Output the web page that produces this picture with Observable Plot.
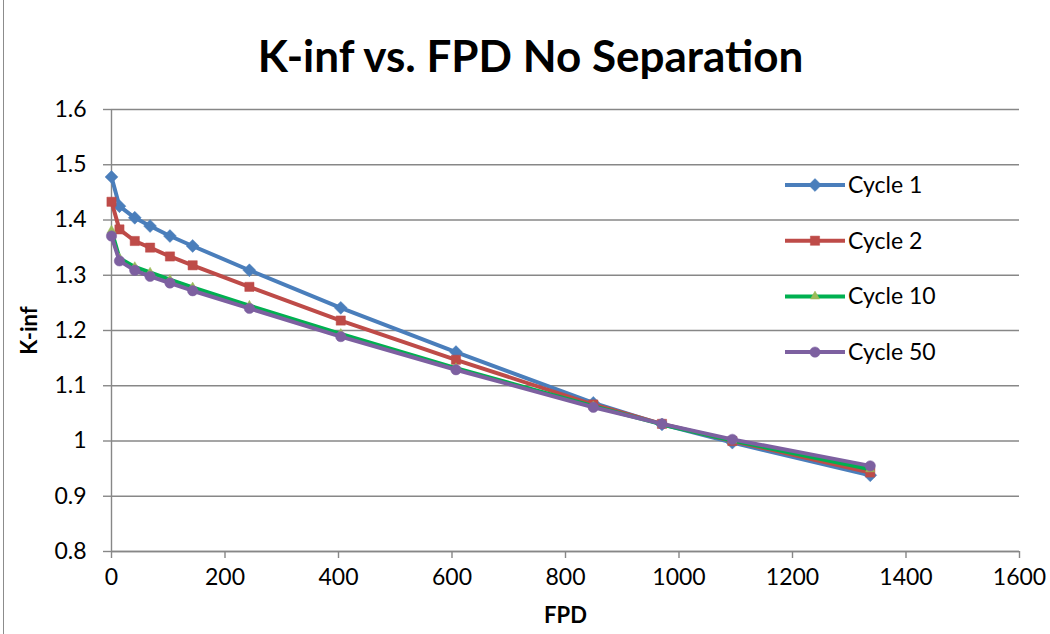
<!DOCTYPE html>
<html>
<head>
<meta charset="utf-8">
<script src="https://cdn.jsdelivr.net/npm/d3@7"></script>
<script src="https://cdn.jsdelivr.net/npm/@observablehq/plot@0.6"></script>
<style>
  body { margin: 0; background: #fff; }
  #chart { position: relative; width: 1050px; height: 634px; overflow: hidden; border-left: 1px solid #8c8c8c; box-sizing: border-box; margin-left: 3px; }
  #title { height: 90px; line-height: 90px; padding-top: 10px; box-sizing: border-box; text-align: center; font-family: Lato, "Open Sans", sans-serif; font-weight: bold; font-size: 44px; color: #000; padding-left: 4px; white-space: nowrap; }
  .kinf g[aria-label="x-axis label"] text, .kinf g[aria-label="y-axis label"] text { font-weight: bold; font-size: 22px; }
</style>
</head>
<body>
<div id="chart">
  <div id="title">K-inf vs. FPD No Separation</div>
</div>
<script>
// Full-power days at each depletion step
const fpd = [0, 14, 41, 68, 103, 143, 243, 404, 607, 849, 970, 1094, 1337];

// k-infinity per recycle generation
const cycle1  = [1.478, 1.425, 1.404, 1.389, 1.371, 1.353, 1.309, 1.241, 1.161, 1.069, 1.030, 0.997, 0.938];
const cycle2  = [1.433, 1.383, 1.362, 1.350, 1.334, 1.318, 1.279, 1.218, 1.147, 1.066, 1.031, 1.000, 0.943];
const cycle10 = [1.381, 1.331, 1.315, 1.305, 1.292, 1.278, 1.245, 1.194, 1.132, 1.063, 1.030, 1.001, 0.949];
const cycle50 = [1.371, 1.326, 1.309, 1.298, 1.286, 1.272, 1.240, 1.189, 1.129, 1.061, 1.031, 1.003, 0.955];

const seriesNames = ["Cycle 1", "Cycle 2", "Cycle 10", "Cycle 50"];
const seriesValues = [cycle1, cycle2, cycle10, cycle50];

const xTicks = [0, 200, 400, 600, 800, 1000, 1200, 1400, 1600];
const yTicks = [0.8, 0.9, 1.0, 1.1, 1.2, 1.3, 1.4, 1.5, 1.6];

// Per-series look: line colour, marker colour, marker shape and size
const styles = [
  {line: "#4a7ebb", fill: "#4a7ebb", symbol: "diamond2", r: 5.8},
  {line: "#be4b48", fill: "#be4b48", symbol: "square", r: 5.2},
  {line: "#00b050", fill: "#9bbb59", symbol: "triangle", r: 3.4},
  {line: "#7d60a0", fill: "#7d60a0", symbol: "circle", r: 5.2}
];

const rows = seriesNames.map((name, i) =>
  fpd.map((x, j) => ({series: name, fpd: x, kinf: seriesValues[i][j]}))
);

const seriesMarks = rows.flatMap((data, i) => [
  Plot.line(data, {x: "fpd", y: "kinf", stroke: styles[i].line, strokeWidth: 4}),
  Plot.dot(data, {x: "fpd", y: "kinf", symbol: () => styles[i].symbol, r: styles[i].r,
                  fill: styles[i].fill, stroke: styles[i].fill, strokeWidth: 0.5})
]);

const gray = "#878787";
const plot = Plot.plot({
  width: 1047,
  height: 544,
  marginTop: 19,
  marginLeft: 107,
  marginRight: 32,
  marginBottom: 83,
  className: "kinf",
  style: {fontFamily: "Lato, 'Open Sans', sans-serif", fontSize: "23px", color: "#000", background: "transparent"},
  symbol: {type: "identity"},
  x: {domain: [0, 1600]},
  y: {domain: [0.8, 1.6]},
  marks: [
    Plot.gridY(yTicks, {stroke: gray, strokeOpacity: 1, strokeWidth: 1.4}),
    Plot.ruleX([0], {stroke: gray, strokeWidth: 1.4}),
    Plot.ruleY([0.8], {stroke: gray, strokeWidth: 1.4}),
    Plot.axisX(xTicks, {tickSize: 7, tickPadding: 10, stroke: gray, strokeWidth: 1.4,
                        tickFormat: d => String(d),
                        label: "FPD", labelAnchor: "center", labelArrow: "none", labelOffset: 71}),
    Plot.axisY(yTicks, {tickSize: 8, tickPadding: 17, stroke: gray, strokeWidth: 1.4,
                        tickFormat: d => String(+d.toFixed(1)),
                        label: "K-inf", labelAnchor: "center", labelArrow: "none", labelOffset: 90}),
    ...seriesMarks
  ]
});

document.getElementById("chart").appendChild(plot);

// Legend: sample line with marker, followed by the series name
const svg = d3.select(plot);
const legend = svg.append("g")
  .attr("font-family", "Lato, 'Open Sans', sans-serif")
  .attr("font-size", 23)
  .attr("text-anchor", "start");
const symbolTypes = {diamond2: d3.symbolDiamond2, square: d3.symbolSquare, triangle: d3.symbolTriangle, circle: d3.symbolCircle};
const legendTop = 95, legendStep = 55.7, lx = 781;
seriesNames.forEach((name, i) => {
  const y = legendTop + i * legendStep;
  const g = legend.append("g").attr("transform", `translate(0,${y})`);
  g.append("line").attr("x1", lx).attr("x2", lx + 60).attr("y1", 0).attr("y2", 0)
    .attr("stroke", styles[i].line).attr("stroke-width", 4);
  g.append("path")
    .attr("transform", `translate(${lx + 30},0)`)
    .attr("d", d3.symbol(symbolTypes[styles[i].symbol], styles[i].r * styles[i].r * Math.PI)())
    .attr("fill", styles[i].fill).attr("stroke", styles[i].fill).attr("stroke-width", 0.5);
  g.append("text").attr("x", lx + 63).attr("y", 0).attr("dy", "0.35em").attr("fill", "#000").text(name);
});
</script>
</body>
</html>
